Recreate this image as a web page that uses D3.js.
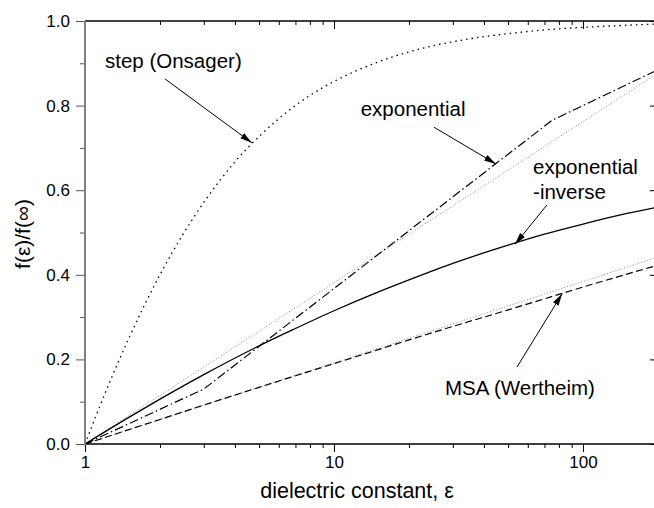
<!DOCTYPE html>
<html>
<head>
<meta charset="utf-8">
<script src="https://cdn.jsdelivr.net/npm/d3@7"></script>
<style>
  body { margin: 0; background: white; }
  text { font-family: "Liberation Sans", Arial, sans-serif; fill: black; }
</style>
</head>
<body>
<div id="grafico"></div>
<script>
// valores
var eps_step = [1, 1.25, 1.5, 2, 2.5, 3, 4, 5, 6, 8, 10, 15, 20, 30, 40, 50, 70, 100, 150, 200];
var f_step = [0, 0.143, 0.25, 0.4, 0.5, 0.571, 0.667, 0.727, 0.769, 0.824, 0.857, 0.903, 0.927, 0.951, 0.963, 0.970, 0.979, 0.985, 0.990, 0.993];

var eps_expo = [1, 3, 75, 200];
var f_expo = [0, 0.13, 0.765, 0.885];

var eps_expinv = [1, 1.5, 2, 3, 5, 7, 10, 15, 20, 30, 50, 70, 100, 150, 200];
var f_expinv = [0, 0.063, 0.106, 0.164, 0.232, 0.273, 0.315, 0.359, 0.388, 0.427, 0.470, 0.496, 0.52, 0.545, 0.56];

var eps_msa = [1, 2, 3, 5, 10, 20, 30, 50, 100, 200];
var f_msa = [0, 0.058, 0.092, 0.134, 0.190, 0.246, 0.278, 0.317, 0.371, 0.423];

// rectas grises punteadas (ajustes)
var eps_ajuste = [1, 200];
var f_ajuste1 = [0, 0.877];
var f_ajuste2 = [0, 0.442];

var ticks_y = [0, 0.2, 0.4, 0.6, 0.8, 1.0];
var ticks_y_menor = [0.1, 0.3, 0.5, 0.7, 0.9];
var ticks_x = [1, 10, 100];
var ticks_x_menor = [2, 3, 4, 5, 6, 7, 8, 9, 20, 30, 40, 50, 60, 70, 80, 90, 200];

var anotaciones = [
  {texto: ["step (Onsager)"], tx: 1.203, ty: 0.889, x0: 2.095, y0: 0.863, x1: 4.68, y1: 0.712},
  {texto: ["exponential"], tx: 12.8, ty: 0.775, x0: 25.2, y0: 0.749, x1: 44.7, y1: 0.662},
  {texto: ["exponential", "-inverse"], tx: 63, ty: 0.638, x0: 71.6, y0: 0.565, x1: 53.3, y1: 0.472},
  {texto: ["MSA (Wertheim)"], tx: 27.9, ty: 0.116, x0: 54.3, y0: 0.182, x1: 82.4, y1: 0.355}
];

var ancho = 654, alto = 508;
var margin = {top: 21, right: -4, bottom: 64, left: 85};
var width = ancho - margin.left - margin.right;
var height = alto - margin.top - margin.bottom;

var svg = d3.select("#grafico").append("svg")
  .attr("width", ancho)
  .attr("height", alto);

svg.append("defs").append("marker")
  .attr("id", "flecha")
  .attr("viewBox", "0 0 12 8")
  .attr("refX", 12).attr("refY", 4)
  .attr("markerWidth", 12).attr("markerHeight", 8)
  .attr("markerUnits", "userSpaceOnUse")
  .attr("orient", "auto")
  .append("path").attr("d", "M0,0.8 L12,4 L0,7.2 Z").style("fill", "black");

var g = svg.append("g")
  .attr("transform", "translate(" + margin.left + "," + margin.top + ")");

var xScale = d3.scaleLog().domain([1, 200]).range([0, width]);
var yScale = d3.scaleLinear().domain([0, 1]).range([height, 0]);

// curvas
function serie(eps, f) {
  return eps.map(function(d, i) { return [d, f[i]]; });
}
var linea = d3.line()
  .x(function(d) { return xScale(d[0]); })
  .y(function(d) { return yScale(d[1]); });
var lineaSuave = d3.line()
  .x(function(d) { return xScale(d[0]); })
  .y(function(d) { return yScale(d[1]); })
  .curve(d3.curveMonotoneX);

var curvas = [
  {datos: serie(eps_ajuste, f_ajuste1), color: "#888", ancho: 1, dash: "1,2", suave: false},
  {datos: serie(eps_ajuste, f_ajuste2), color: "#888", ancho: 1, dash: "1,2", suave: false},
  {datos: serie(eps_step, f_step), color: "black", ancho: 1.3, dash: "1.5,4", suave: true},
  {datos: serie(eps_expo, f_expo), color: "black", ancho: 1.2, dash: "9,3,1.5,3", suave: false},
  {datos: serie(eps_expinv, f_expinv), color: "black", ancho: 1.3, dash: null, suave: true},
  {datos: serie(eps_msa, f_msa), color: "black", ancho: 1.2, dash: "7,3.5", suave: true}
];

g.selectAll(".curva").data(curvas).enter().append("path")
  .attr("class", "curva")
  .attr("d", function(d) { return d.suave ? lineaSuave(d.datos) : linea(d.datos); })
  .style("fill", "none")
  .style("stroke", function(d) { return d.color; })
  .style("stroke-width", function(d) { return d.ancho; })
  .style("stroke-dasharray", function(d) { return d.dash; });

// ejes
function limpiar(sel) { sel.select(".domain").remove(); }

var xAxis = d3.axisBottom(xScale).tickValues(ticks_x).tickSize(8).tickPadding(4).tickFormat(d3.format("d"));
var xAxisG = g.append("g").attr("transform", "translate(0," + height + ")").call(xAxis);
var xMenor = g.append("g").attr("transform", "translate(0," + height + ")")
  .call(d3.axisBottom(xScale).tickValues(ticks_x_menor).tickSize(4).tickFormat(""));
limpiar(xAxisG); limpiar(xMenor);
xAxisG.selectAll("text").style("font-size", "17px");

var xTop = g.append("g").call(d3.axisBottom(xScale).tickValues(ticks_x).tickSize(8).tickFormat(""));
var xTopMenor = g.append("g").call(d3.axisBottom(xScale).tickValues(ticks_x_menor).tickSize(4).tickFormat(""));
limpiar(xTop); limpiar(xTopMenor);

var yAxis = d3.axisLeft(yScale).tickValues(ticks_y).tickSize(9).tickPadding(6).tickFormat(d3.format(".1f"));
var yAxisG = g.append("g").call(yAxis);
var yMenor = g.append("g").call(d3.axisLeft(yScale).tickValues(ticks_y_menor).tickSize(5).tickFormat(""));
limpiar(yAxisG); limpiar(yMenor);
yAxisG.selectAll("text").style("font-size", "17px");
yAxisG.selectAll("line").style("stroke", "#555");
yMenor.selectAll("line").style("stroke", "#555");

var yRight = g.append("g").attr("transform", "translate(" + width + ",0)")
  .call(d3.axisLeft(yScale).tickValues(ticks_y).tickSize(8).tickFormat(""));
var yRightMenor = g.append("g").attr("transform", "translate(" + width + ",0)")
  .call(d3.axisLeft(yScale).tickValues(ticks_y_menor).tickSize(4).tickFormat(""));
limpiar(yRight); limpiar(yRightMenor);

// marco
g.append("line").attr("x1", 0).attr("x2", width).attr("y1", 0).attr("y2", 0)
  .style("stroke", "black").style("stroke-width", 1.5);
g.append("line").attr("x1", 0).attr("x2", width).attr("y1", height).attr("y2", height)
  .style("stroke", "black").style("stroke-width", 1.5);
g.append("line").attr("x1", width).attr("x2", width).attr("y1", 0).attr("y2", height)
  .style("stroke", "black").style("stroke-width", 1.5);
g.append("line").attr("x1", 0).attr("x2", 0).attr("y1", 0).attr("y2", height + 1)
  .style("stroke", "#808080").style("stroke-width", 2);

// titulos de ejes
svg.append("text")
  .attr("x", 357)
  .attr("y", 498)
  .attr("text-anchor", "middle")
  .style("font-size", "21.5px")
  .text("dielectric constant, ε");

svg.append("text")
  .attr("transform", "rotate(-90)")
  .attr("x", -234)
  .attr("y", 30)
  .attr("text-anchor", "middle")
  .style("font-size", "21px")
  .text("f(ε)/f(∞)");

// anotaciones
var ann = g.selectAll(".anotacion").data(anotaciones).enter().append("g").attr("class", "anotacion");
ann.append("line")
  .attr("x1", function(d) { return xScale(d.x0); })
  .attr("y1", function(d) { return yScale(d.y0); })
  .attr("x2", function(d) { return xScale(d.x1); })
  .attr("y2", function(d) { return yScale(d.y1); })
  .style("stroke", "black").style("stroke-width", 1)
  .attr("marker-end", "url(#flecha)");
ann.each(function(d) {
  var t = d3.select(this);
  d.texto.forEach(function(s, i) {
    t.append("text")
      .attr("x", xScale(d.tx))
      .attr("y", yScale(d.ty) + i * 25)
      .style("font-size", "20.5px")
      .text(s);
  });
});
</script>
</body>
</html>
